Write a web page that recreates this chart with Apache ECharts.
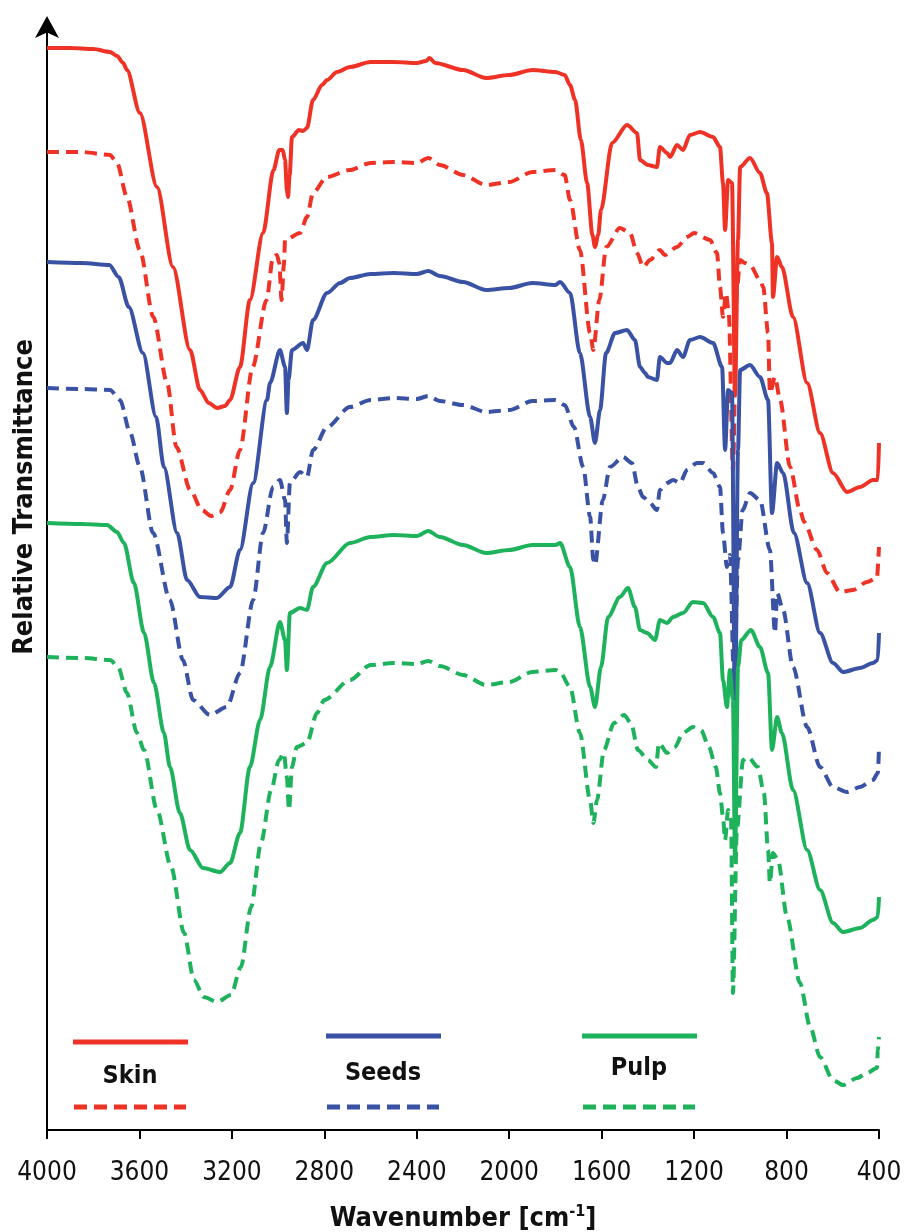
<!DOCTYPE html>
<html>
<head>
<meta charset="utf-8">
<script src="https://cdn.jsdelivr.net/npm/echarts@6/dist/echarts.min.js"></script>
<style>
html,body{margin:0;padding:0;background:#fff;}
#chart{width:911px;height:1232px;}
</style>
</head>
<body>
<div id="chart"></div>
<script>
// Wavenumber tick labels
const xTicks = [4000, 3600, 3200, 2800, 2400, 2000, 1600, 1200, 800, 400];
const seriesNames = ['Skin', 'Seeds', 'Pulp'];

// [wavenumber (cm-1), relative transmittance (arbitrary, offset stacked)]
const skinSolid = [[4000,1082],[3900,1082],[3800,1081],[3727,1078],[3697,1074],[3670,1067],[3654,1060],[3598,1017],[3524,943],[3455,863],[3381,780],[3338,740],[3300,727],[3264,722],[3230,724],[3208,730],[3165,763],[3122,830],[3065,897],[3020,960],[2995,980],[2980,980],[2970,970],[2962,940],[2957,933],[2950,955],[2940,993],[2910,1000],[2892,999],[2875,1002],[2849,1030],[2810,1045],[2788,1050],[2745,1058],[2689,1063],[2600,1068],[2500,1068],[2400,1067],[2360,1069],[2345,1072],[2320,1067],[2200,1060],[2100,1052],[2000,1055],[1900,1060],[1800,1058],[1760,1055],[1737,1045],[1715,1030],[1690,990],[1663,947],[1640,895],[1629,883],[1615,895],[1603,920],[1555,987],[1490,1005],[1447,997],[1434,970],[1400,965],[1361,963],[1348,983],[1317,977],[1304,973],[1274,985],[1248,980],[1218,995],[1174,998],[1118,993],[1088,983],[1075,947],[1066,900],[1053,950],[1036,947],[1023,735],[1010,890],[1001,963],[958,972],[915,957],[885,937],[863,887],[859,833],[841,873],[820,863],[772,813],[711,747],[655,697],[599,657],[538,638],[482,643],[426,650],[405,650],[400,687]];

const skinDashed = [[4000,978],[3850,978],[3727,975],[3697,967],[3654,933],[3598,880],[3540,813],[3480,747],[3440,683],[3380,640],[3330,620],[3290,614],[3250,618],[3208,640],[3165,680],[3110,763],[3050,830],[3022,873],[3005,875],[2995,867],[2985,830],[2975,865],[2970,890],[2905,897],[2875,913],[2849,937],[2790,953],[2690,960],[2600,967],[2500,968],[2400,967],[2350,972],[2300,965],[2200,955],[2100,945],[2000,948],[1900,958],[1800,960],[1760,955],[1737,930],[1694,880],[1650,797],[1636,780],[1610,830],[1580,883],[1521,902],[1477,897],[1447,877],[1420,863],[1391,870],[1348,880],[1327,875],[1274,883],[1230,893],[1200,897],[1131,890],[1101,877],[1088,843],[1075,813],[1062,837],[1050,817],[1032,660],[1015,840],[1001,870],[980,867],[958,865],[915,850],[901,843],[880,797],[872,737],[850,753],[828,730],[785,663],[742,620],[724,608],[668,580],[625,557],[569,538],[512,540],[452,548],[409,552],[400,583]];

const seedsSolid = [[4000,868],[3850,867],[3730,865],[3690,853],[3646,823],[3585,777],[3528,713],[3494,663],[3437,597],[3394,550],[3338,533],[3265,532],[3208,543],[3165,580],[3108,647],[3048,730],[3035,747],[2992,780],[2970,763],[2962,717],[2955,750],[2940,780],[2892,787],[2875,780],[2849,810],[2788,837],[2732,847],[2689,852],[2600,856],[2500,857],[2400,856],[2350,859],[2300,854],[2200,848],[2100,840],[2000,842],[1900,847],[1800,845],[1780,848],[1737,837],[1694,777],[1650,713],[1629,687],[1607,720],[1581,777],[1542,797],[1490,800],[1456,790],[1434,763],[1412,757],[1400,753],[1361,750],[1348,773],[1317,767],[1304,767],[1274,780],[1248,773],[1218,790],[1174,793],[1118,787],[1079,763],[1066,680],[1053,740],[1036,737],[1023,400],[1010,680],[1001,760],[958,765],[915,753],[880,730],[863,617],[841,667],[815,657],[768,597],[711,547],[655,497],[599,467],[555,458],[482,462],[426,467],[405,470],[400,497]];

const seedsDashed = [[4000,742],[3850,741],[3727,740],[3684,730],[3640,697],[3598,663],[3541,597],[3468,530],[3412,470],[3368,430],[3295,415],[3222,423],[3165,457],[3108,530],[3065,597],[3022,643],[2992,650],[2970,630],[2962,587],[2949,647],[2905,658],[2875,653],[2849,680],[2788,703],[2689,723],[2600,730],[2500,732],[2400,731],[2350,734],[2300,729],[2200,725],[2100,718],[2000,720],[1900,729],[1800,730],[1760,725],[1720,703],[1680,663],[1650,613],[1636,570],[1629,565],[1595,630],[1564,663],[1508,673],[1469,667],[1443,643],[1421,633],[1391,627],[1361,620],[1348,640],[1317,647],[1291,650],[1261,647],[1231,660],[1188,667],[1161,667],[1118,657],[1088,643],[1075,597],[1058,563],[1045,575],[1027,445],[1010,570],[990,620],[958,637],[915,630],[872,580],[850,497],[841,537],[815,520],[772,463],[711,403],[655,363],[599,343],[538,338],[482,343],[426,350],[405,357],[400,383]];

const pulpSolid = [[4000,607],[3850,606],[3740,605],[3697,598],[3667,587],[3624,547],[3580,497],[3537,447],[3494,397],[3468,363],[3425,317],[3381,280],[3325,262],[3251,258],[3208,267],[3165,297],[3122,363],[3078,410],[3035,463],[2992,508],[2970,490],[2962,460],[2949,517],[2905,522],[2875,520],[2849,543],[2788,567],[2689,587],[2600,593],[2500,595],[2400,594],[2350,599],[2300,593],[2200,585],[2100,577],[2000,580],[1900,585],[1800,585],[1780,587],[1737,563],[1694,503],[1650,443],[1629,423],[1603,463],[1572,513],[1521,533],[1486,542],[1456,523],[1434,500],[1404,497],[1369,490],[1348,510],[1317,507],[1291,513],[1248,517],[1205,528],[1161,527],[1118,513],[1088,497],[1075,450],[1058,423],[1045,460],[1032,430],[1023,270],[1010,463],[996,490],[954,500],[915,483],[880,457],[863,380],[841,413],[820,397],[772,340],[711,280],[655,240],[599,207],[556,198],[482,202],[426,210],[405,213],[400,233]];

const pulpDashed = [[4000,473],[3850,472],[3727,470],[3692,463],[3654,437],[3611,397],[3580,380],[3524,320],[3463,263],[3407,197],[3364,150],[3321,133],[3264,128],[3204,135],[3161,163],[3117,223],[3074,287],[3030,340],[2996,370],[2975,377],[2962,353],[2953,320],[2940,363],[2919,383],[2875,387],[2832,417],[2800,430],[2689,450],[2600,465],[2500,467],[2400,466],[2350,469],[2300,464],[2200,455],[2100,445],[2000,448],[1900,458],[1800,460],[1780,458],[1737,443],[1694,397],[1650,330],[1636,307],[1620,330],[1590,380],[1547,407],[1503,415],[1473,407],[1443,380],[1400,370],[1365,363],[1352,387],[1317,377],[1283,383],[1248,397],[1205,403],[1170,400],[1136,383],[1106,363],[1088,337],[1075,313],[1066,290],[1053,320],[1040,310],[1032,137],[1015,300],[988,370],[967,373],[924,363],[898,337],[880,280],[872,247],[859,277],[837,270],[798,213],[742,147],[698,103],[655,73],[599,50],[556,45],[495,52],[452,57],[409,62],[405,80],[400,93]];

const RED = '#EE3326', BLUE = '#3A52A4', GREEN = '#1FB25C';
const FONT = '"Liberation Sans Narrow", "DejaVu Sans Condensed", "Liberation Sans", sans-serif';
const DASH = [12, 7];

function mk(name, data, color, dashed) {
  return {
    name: name, type: 'line', data: data, showSymbol: false, symbol: 'none',
    smooth: 0.28, smoothMonotone: 'x', animation: false,
    lineStyle: { color: color, width: 4, type: dashed ? DASH : 'solid', cap: 'butt', join: 'round' },
    z: dashed ? 2 : 3
  };
}

const chart = echarts.init(document.getElementById('chart'), null, { renderer: 'canvas' });

function legendItem(cx, ySolid, yText, color, label) {
  return [
    { type: 'line', shape: { x1: cx - 57, y1: ySolid, x2: cx + 58, y2: ySolid }, style: { stroke: color, lineWidth: 5 } },
    { type: 'text', x: cx, y: yText, style: { text: label, font: 'bold 25px ' + FONT, fill: '#111', textAlign: 'center', textVerticalAlign: 'middle' } },
    { type: 'line', shape: { x1: cx - 56, y1: 1107, x2: cx + 56, y2: 1107 }, style: { stroke: color, lineWidth: 5, lineDash: [13, 7] } }
  ];
}

const option = {
  backgroundColor: '#fff',
  animation: false,
  grid: { left: 47, right: 32, top: 24, bottom: 102, containLabel: false, outerBoundsMode: 'none' },
  xAxis: {
    type: 'value', inverse: true, min: 400, max: 4000, interval: 400,
    axisLine: { show: true, lineStyle: { color: '#000', width: 2 } },
    axisTick: { show: true, inside: false, length: 9, lineStyle: { color: '#000', width: 2 } },
    axisLabel: { show: true, margin: 30, color: '#111', fontSize: 26, fontFamily: FONT,
      formatter: function (v) { return xTicks.indexOf(v) >= 0 ? String(v) : ''; } },
    splitLine: { show: false },
    name: 'Wavenumber [cm{sup|-1}]', nameLocation: 'middle', nameGap: 74,
    nameTextStyle: { fontSize: 27, fontWeight: 'bold', fontFamily: FONT, color: '#111',
      rich: { sup: { fontSize: 16, fontWeight: 'bold', fontFamily: FONT, color: '#111', padding: [0, 0, 14, 0] } } }
  },
  yAxis: {
    type: 'value', min: 0, max: 1106,
    axisLine: { show: true, symbol: ['none', 'arrow'], symbolSize: [18, 22], symbolOffset: [0, 8], lineStyle: { color: '#000', width: 2 } },
    axisTick: { show: false }, axisLabel: { show: false }, splitLine: { show: false }
  },
  graphic: [
    { type: 'text', x: 25, y: 497, rotation: Math.PI / 2,
      style: { text: 'Relative Transmittance', font: 'bold 27px ' + FONT, fill: '#111', textAlign: 'center', textVerticalAlign: 'middle' } }
  ].concat(legendItem(130, 1042, 1076, RED, seriesNames[0]))
   .concat(legendItem(383, 1036, 1073, BLUE, seriesNames[1]))
   .concat(legendItem(639, 1036, 1068, GREEN, seriesNames[2])),
  series: [
    mk('Skin', skinSolid, RED, false),
    mk('Skin (dashed)', skinDashed, RED, true),
    mk('Seeds', seedsSolid, BLUE, false),
    mk('Seeds (dashed)', seedsDashed, BLUE, true),
    mk('Pulp', pulpSolid, GREEN, false),
    mk('Pulp (dashed)', pulpDashed, GREEN, true)
  ]
};
chart.setOption(option);
</script>
</body>
</html>
